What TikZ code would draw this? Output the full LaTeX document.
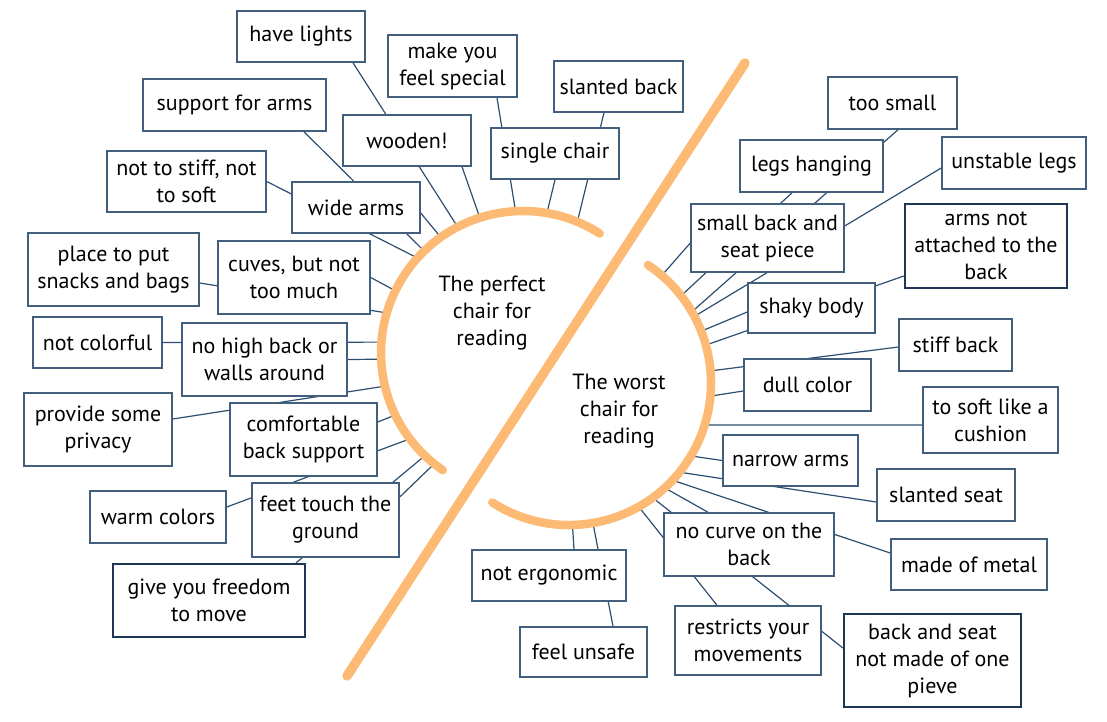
\documentclass[tikz,border=0pt]{standalone}
\usepackage{fontspec}
\setmainfont{PT Sans}
\usetikzlibrary{calc,backgrounds}

\definecolor{peach}{RGB}{252,186,117}
\definecolor{boxblue}{RGB}{66,96,125}
\definecolor{deepblue}{RGB}{30,55,85}
\definecolor{linkblue}{RGB}{45,78,110}

\begin{document}
\begin{tikzpicture}[x=1pt, y=-1pt,
    idea/.style={draw=boxblue, line width=1.5pt, fill=white, rectangle, align=center,
      inner sep=0pt, font=\fontsize{22}{27}\selectfont},
    strong/.style={idea, draw=deepblue, line width=2.2pt},
    topic/.style={align=center, font=\fontsize{22}{27}\selectfont},
    link/.style={draw=linkblue, line width=1.2pt},
    band/.style={draw=peach, line width=8.5pt, line cap=round}]

\useasboundingbox (0,0) rectangle (1107,721);

\coordinate (cL) at (523,353);
\coordinate (cR) at (569,383);
\coordinate (slashtop) at (745,63);
\coordinate (slashbot) at (347,676);

% perfect chair
\node[idea, minimum width=128pt, minimum height=51pt] (lights) at (301,36.5) {have lights};
\node[idea, minimum width=129pt, minimum height=62pt] (special) at (452.5,66) {make you\\feel special};
\node[idea, minimum width=129pt, minimum height=51pt] (slantback) at (618.5,86.5) {slanted back};
\node[idea, minimum width=183pt, minimum height=52pt] (armrest) at (234.5,105) {support for arms};
\node[idea, minimum width=128pt, minimum height=51pt] (wooden) at (407,140.5) {wooden!};
\node[idea, minimum width=128pt, minimum height=51pt] (single) at (555,153.5) {single chair};
\node[idea, minimum width=159pt, minimum height=61pt] (stiffsoft) at (186.5,181.5) {not to stiff, not\\to soft};
\node[idea, minimum width=128pt, minimum height=51pt] (widearms) at (356,207.5) {wide arms};
\node[idea, minimum width=171pt, minimum height=73pt] (snacks) at (113.5,269.5) {place to put\\snacks and bags};
\node[idea, minimum width=152pt, minimum height=73pt] (curves) at (294,277.5) {cuves, but not\\too much};
\node[idea, minimum width=129pt, minimum height=51pt] (colorless) at (97.5,342.5) {not colorful};
\node[idea, minimum width=165pt, minimum height=73pt] (nowalls) at (264.5,359.5) {no high back or\\walls around};
\node[idea, minimum width=148pt, minimum height=73pt] (privacy) at (98,429.5) {provide some\\privacy};
\node[idea, minimum width=147pt, minimum height=73pt] (backsupport) at (303.5,439.5) {comfortable\\back support};
\node[idea, minimum width=136pt, minimum height=52pt] (warm) at (158,517) {warm colors};
\node[idea, minimum width=147pt, minimum height=74pt] (feet) at (325.5,520) {feet touch the\\ground};
\node[strong, minimum width=192pt, minimum height=73pt] (freedom) at (209,600.5) {give you freedom\\to move};

% worst chair
\node[idea, minimum width=129pt, minimum height=52pt] (toosmall) at (892.5,103) {too small};
\node[idea, minimum width=143pt, minimum height=52pt] (legs) at (811.5,166) {legs hanging};
\node[idea, minimum width=144pt, minimum height=52pt] (unstable) at (1014,163) {unstable legs};
\node[idea, minimum width=153pt, minimum height=68pt] (smallback) at (767.5,238) {small back and\\seat piece};
\node[strong, minimum width=162pt, minimum height=84pt] (armsloose) at (986,246) {arms not\\attached to the\\back};
\node[idea, minimum width=127pt, minimum height=50pt] (shaky) at (811.5,308) {shaky body};
\node[idea, minimum width=113pt, minimum height=52pt] (stiffback) at (955.5,345) {stiff back};
\node[idea, minimum width=127pt, minimum height=52pt] (dull) at (807.5,385) {dull color};
\node[idea, minimum width=135pt, minimum height=66pt] (cushion) at (990.5,420) {to soft like a\\cushion};
\node[idea, minimum width=135pt, minimum height=51pt] (narrow) at (790.5,460.5) {narrow arms};
\node[idea, minimum width=138pt, minimum height=52pt] (slantseat) at (946,495) {slanted seat};
\node[idea, minimum width=170pt, minimum height=63pt] (nocurve) at (749,544.5) {no curve on the\\back};
\node[idea, minimum width=156pt, minimum height=51pt] (metal) at (969,564.5) {made of metal};
\node[idea, minimum width=154pt, minimum height=51pt] (notergo) at (549,575.5) {not ergonomic};
\node[idea, minimum width=146pt, minimum height=69pt] (restricts) at (748,640.5) {restricts your\\movements};
\node[strong, minimum width=177pt, minimum height=93pt] (onepiece) at (932.5,660.5) {back and seat\\not made of one\\pieve};
\node[idea, minimum width=127pt, minimum height=50pt] (unsafe) at (583.5,652) {feel unsafe};

\node[topic] (best) at (492,313) {The perfect\\chair for\\reading};
\node[topic] (worst) at (619,411) {The worst\\chair for\\reading};

% where the spokes meet the rings
\foreach \n/\a in {lights/117.4, wooden/107.7, special/93, slantback/67.5, single/80.3,
    armrest/134.1, stiffsoft/138, widearms/125.4, curves/154, snacks/163.6, colorless/175.6,
    nowalls/182.5, privacy/193.5, backsupport/205.9, warm/217.2, freedom/226.3, feet/231.3}
  \coordinate (e-\n) at ($(cL)+(\a:142pt)$);
\foreach \n/\a in {smallback/49.2, legs/37.9, toosmall/30.1, unstable/28, shaky/21.4,
    armsloose/15.5, stiffback/4.9, dull/-5.3, cushion/-17.2, narrow/-30.9, slantseat/-38.9,
    metal/-43.2, nocurve/-47.6, onepiece/-53.9, restricts/-60.6, unsafe/-80.3, notergo/-88.6}
  \coordinate (e-\n) at ($(cR)+(\a:142pt)$);

\begin{scope}[on background layer]
  \draw[link] ($(lights.south)+(52,0)$) -- (e-lights);
  \draw[link] ($(wooden.south)+(55,0)$) -- (e-wooden);
  \draw[link] ($(special.south)+(44.5,0)$) -- (e-special);
  \draw[link] ($(slantback.south)+(-14.5,0)$) -- (e-slantback);
  \draw[link] (single.south) -- (e-single);
  \draw[link] ($(armrest.south)+(69.5,0)$) -- (e-armrest);
  \draw[link] (stiffsoft.east) -- (e-stiffsoft);
  \draw[link] ($(widearms.east)+(0,5.5)$) -- (e-widearms);
  \draw[link] (curves.east) -- (e-curves);
  \draw[link] ($(snacks.east)+(0,13.5)$) -- (e-snacks);
  \draw[link] (colorless.east) -- (e-colorless);
  \draw[link] (nowalls.east) -- (e-nowalls);
  \draw[link] ($(privacy.east)+(0,-10.5)$) -- (e-privacy);
  \draw[link] ($(backsupport.east)+(0,-17.5)$) -- (e-backsupport);
  \draw[link] ($(warm.east)+(0,-10)$) -- (e-warm);
  \draw[link] ($(freedom.north)+(87,0)$) -- (e-freedom);
  \draw[link] ($(feet.east)+(0,-23)$) -- (e-feet);

  \draw[link] ($(smallback.west)+(0,5)$) -- (e-smallback);
  \draw[link] ($(legs.south)+(-19.5,0)$) -- (e-legs);
  \draw[link] ($(toosmall.south)+(5.5,0)$) -- (e-toosmall);
  \draw[link] ($(unstable.west)+(0,5)$) -- (e-unstable);
  \draw[link] ($(shaky.west)+(0,4)$) -- (e-shaky);
  \draw[link] ($(armsloose.west)+(0,30)$) -- (e-armsloose);
  \draw[link] ($(stiffback.west)+(0,2)$) -- (e-stiffback);
  \draw[link] ($(dull.west)+(0,6)$) -- (e-dull);
  \draw[link] ($(cushion.west)+(0,5)$) -- (e-cushion);
  \draw[link] (narrow.west) -- (e-narrow);
  \draw[link] ($(slantseat.west)+(0,7)$) -- (e-slantseat);
  \draw[link] ($(metal.west)+(0,-11.5)$) -- (e-metal);
  \draw[link] ($(nocurve.north)+(-41,0)$) -- (e-nocurve);
  \draw[link] ($(onepiece.west)+(0,-12.5)$) -- (e-onepiece);
  \draw[link] ($(restricts.north)+(-31,0)$) -- (e-restricts);
  \draw[link] ($(unsafe.north)+(29.5,0)$) -- (e-unsafe);
  \draw[link] ($(notergo.north)+(25,0)$) -- (e-notergo);
\end{scope}

% rings and the slash
\draw[band] ($(cL)+(57.3:142pt)$) arc[start angle=57.3, end angle=235.6, radius=142pt];
\draw[band] ($(cR)+(56.2:142pt)$) arc[start angle=56.2, end angle=-122.7, radius=142pt];
\draw[band, line width=9.5pt] (slashtop) -- (slashbot);
\end{tikzpicture}
\end{document}
